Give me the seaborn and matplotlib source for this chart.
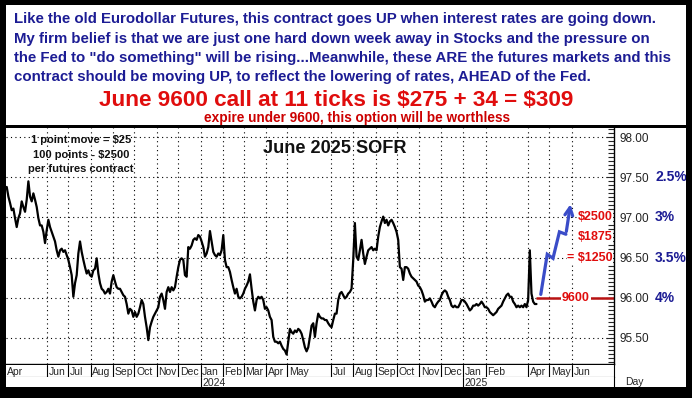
import numpy as np
import pandas as pd
import matplotlib
matplotlib.use("Agg")
import matplotlib.pyplot as plt
from matplotlib.patches import Rectangle
from matplotlib.transforms import blended_transform_factory
import seaborn as sns

# --- Data ---
sofr_close = [
    97.38, 97.26, 97.18, 97.09, 97.11, 96.99, 96.88, 96.99, 97.05, 97.20,
    97.13, 97.07, 97.22, 97.45, 97.26, 97.20, 97.30, 97.22, 97.13, 96.99,
    96.90, 96.90, 96.82, 96.68, 96.84, 96.97, 96.88, 96.82, 96.76, 96.70,
    96.59, 96.51, 96.59, 96.61, 96.57, 96.59, 96.53, 96.47, 96.38, 96.28,
    96.01, 96.18, 96.28, 96.55, 96.70, 96.57, 96.47, 96.38, 96.30, 96.34,
    96.28, 96.26, 96.34, 96.36, 96.49, 96.30, 96.18, 96.11, 96.09, 96.05,
    96.07, 96.11, 96.05, 96.20, 96.28, 96.20, 96.13, 96.11, 96.11, 96.07,
    96.03, 96.01, 95.92, 95.80, 95.86, 95.84, 95.76, 95.82, 95.76, 95.80,
    95.88, 95.97, 95.92, 95.76, 95.63, 95.47, 95.63, 95.70, 95.76, 95.80,
    95.84, 95.88, 96.01, 96.05, 95.97, 95.86, 96.07, 96.13, 96.07, 96.13,
    96.09, 96.13, 96.26, 96.38, 96.47,
    96.49, 96.47, 96.28, 96.26, 96.63, 96.61, 96.65, 96.72, 96.74, 96.72,
    96.78, 96.76, 96.70, 96.63, 96.51, 96.55, 96.63, 96.83, 96.70, 96.57,
    96.53, 96.51, 96.55, 96.53, 96.59, 96.78, 96.47, 96.38, 96.38, 96.32,
    96.22, 96.13, 96.05, 96.11, 96.01, 95.99, 96.01, 96.05, 96.11, 96.15,
    96.20, 96.29, 96.11, 95.95, 95.84, 95.97, 96.01, 95.99, 96.01, 95.97,
    95.86, 95.88, 95.84, 95.76, 95.72, 95.51, 95.45, 95.45, 95.43, 95.45,
    95.40, 95.36, 95.34, 95.29, 95.45, 95.61, 95.57, 95.55, 95.59, 95.57,
    95.61, 95.59, 95.55, 95.47, 95.38, 95.33, 95.38, 95.51, 95.65, 95.68,
    95.51, 95.68, 95.80, 95.76, 95.74, 95.74, 95.72, 95.72, 95.68, 95.65,
    95.63, 95.72, 95.80, 95.80, 95.97, 96.05, 96.07, 96.03, 95.99, 96.01,
    96.05, 96.07, 96.11, 96.47,
    96.93, 96.51, 96.47, 96.59, 96.72, 96.55, 96.42, 96.51, 96.59, 96.61,
    96.63, 96.59, 96.61, 96.59, 96.76, 96.88, 96.95, 97.01, 96.93, 96.97,
    96.90, 96.95, 96.97, 96.93, 96.88, 96.82, 96.72, 96.38, 96.36, 96.22,
    96.38, 96.38, 96.36, 96.30, 96.26, 96.24, 96.22, 96.20, 96.15, 96.13,
    96.09, 96.03, 95.95, 95.97, 95.97, 95.99, 95.95, 95.90, 95.88, 95.92,
    95.95, 95.97, 96.03, 96.07, 96.09, 96.07, 96.01, 95.97, 95.90, 95.88,
    95.90, 95.88, 95.88, 95.92, 95.97, 95.97, 95.95, 95.92, 95.88, 95.84,
    95.86, 95.90, 95.90, 95.92, 95.90, 95.92, 95.95, 95.92, 95.88, 95.88,
    95.86, 95.82, 95.80, 95.78, 95.80, 95.82, 95.86, 95.88, 95.90, 95.95,
    95.99, 96.03, 96.05, 96.01, 96.01, 95.95, 95.92, 95.88, 95.90, 95.88,
    95.90, 95.88, 95.92, 95.88, 95.97, 96.59, 96.05, 95.95, 95.92, 95.92,
]
series_start = "2023-04-06"
series_end = "2025-04-13"

month_starts = ["2023-06-01", "2023-07-01", "2023-08-01", "2023-09-01", "2023-10-01",
                "2023-11-01", "2023-12-01", "2024-01-01", "2024-02-01", "2024-03-01",
                "2024-04-01", "2024-05-01", "2024-07-01", "2024-08-01", "2024-09-01",
                "2024-10-01", "2024-11-01", "2024-12-01", "2025-01-01", "2025-02-01",
                "2025-04-01", "2025-05-01", "2025-06-01"]
first_month_label = "Apr"
year_starts = ["2024-01-01", "2025-01-01"]
year_labels = ["2024", "2025"]

price_levels = [95.5, 96.0, 96.5, 97.0, 97.5, 98.0]
rate_levels = [97.5, 97.0, 96.5, 96.0]
rate_labels = ["2.5%", "3%", "3.5%", "4%"]

strike = 96.0
strike_label = "9600"
strike_from = "2025-04-12"

payoff_levels = [97.0, 96.75, 96.5]
payoff_labels = ["$2500", "$1875", "= $1250"]

path_dates = ["2025-04-19", "2025-04-28", "2025-05-06", "2025-05-15", "2025-05-24", "2025-05-31"]
path_values = [96.04, 96.54, 96.49, 96.82, 96.79, 97.20]

header_lines = [
    "Like the old Eurodollar Futures, this contract goes UP when interest rates are going down.",
    "My firm belief is that we are just one hard down week away in Stocks and the pressure on",
    "the Fed to \"do something\" will be rising...Meanwhile, these ARE the futures markets and this",
    "contract should be moving UP, to reflect the lowering of rates, AHEAD of the Fed.",
]
trade_line = "June 9600 call at 11 ticks is $275 + 34 = $309"
risk_line = "expire under 9600, this option will be worthless"
contract_notes = ["1 point move = $25", "100 points - $2500", "per futures contract"]
chart_title = "June 2025 SOFR"

# --- Style ---
sns.set_style("white")
plt.rcParams["font.family"] = ["Liberation Sans", "DejaVu Sans"]

W, H = 692, 398
NAVY = "#1c1c94"
RED = "#e00d0d"
DARKRED = "#b81212"
ARROW_BLUE = "#3a4cc8"


def fx(px):
    return px / W


def fy(py):
    return 1 - py / H


fig = plt.figure(figsize=(W / 100, H / 100), dpi=100)
renderer = fig.canvas.get_renderer()


def fit_width(txt, target_px):
    w = txt.get_window_extent(renderer).width
    txt.set_fontsize(txt.get_fontsize() * target_px / w)
    return txt.get_fontsize()


# --- Header text panel ---
header_texts = []
for i, line in enumerate(header_lines):
    header_texts.append(fig.text(fx(14), fy(19 + 19.5 * i), line, color=NAVY,
                                 fontweight="bold", fontsize=10, ha="left",
                                 va="center", parse_math=False))
size = fit_width(header_texts[2], 662)
for t in header_texts:
    t.set_fontsize(size)

t = fig.text(fx(336), fy(100), trade_line, color=RED, fontweight="bold",
             fontsize=14, ha="center", va="center", parse_math=False)
fit_width(t, 474)
t = fig.text(fx(357), fy(118), risk_line, color="#cc0000", fontweight="bold",
             fontsize=8, ha="center", va="center", parse_math=False)
fit_width(t, 308)

# --- Main price axes ---
ax = fig.add_axes([fx(6), fy(364), fx(614) - fx(6), fy(128) - fy(364)])
dates = pd.date_range(series_start, series_end, periods=len(sofr_close))
df = pd.DataFrame({"date": dates, "close": sofr_close})
sns.lineplot(data=df, x="date", y="close", ax=ax, color="black", lw=1.6)

ax.set_xlim(pd.Timestamp("2023-04-05"), pd.Timestamp("2025-07-30"))
ax.set_ylim(95.172, 98.115)
ax.set_xlabel("")
ax.set_ylabel("")

month_dates = pd.to_datetime(month_starts)
ax.set_xticks(month_dates)
ax.tick_params(axis="x", length=0, labelbottom=False)
ax.yaxis.tick_right()
ax.set_yticks(price_levels)
ax.set_yticklabels([f"{v:.2f}" for v in price_levels])
ax.set_yticks(np.arange(95.2, 98.11, 0.05), minor=True)
ax.tick_params(axis="y", which="major", direction="in", length=6, width=0.8,
               pad=4, labelsize=8.5, labelcolor="#222222")
ax.tick_params(axis="y", which="minor", direction="in", length=4, width=0.8)
ax.grid(True, which="major", color="black", ls=(0, (1, 3)), lw=0.8)
for side in ["left", "top"]:
    ax.spines[side].set_visible(False)
for side in ["right", "bottom"]:
    ax.spines[side].set_color("black")
    ax.spines[side].set_linewidth(1)

# strike line
ax.plot([pd.Timestamp(strike_from), pd.Timestamp("2025-07-30")], [strike, strike],
        color=DARKRED, lw=1.8, solid_capstyle="butt")
ax.text(pd.Timestamp("2025-06-07"), strike, strike_label, color=RED, fontweight="bold",
        fontsize=9, ha="center", va="center",
        bbox=dict(facecolor="white", edgecolor="none", pad=0.5))

# payoff labels
for lvl, lbl in zip(payoff_levels, payoff_labels):
    ax.text(pd.Timestamp("2025-07-28"), lvl, lbl, color=RED, fontweight="bold",
            fontsize=9, ha="right", va="center", parse_math=False,
            bbox=dict(facecolor="white", edgecolor="none", pad=0.3))

# projected path
pdates = pd.to_datetime(path_dates)
ax.plot(pdates[:-1], path_values[:-1], color=ARROW_BLUE, lw=2.3, solid_joinstyle="miter")
ax.annotate("", xy=(pdates[-1], path_values[-1]), xytext=(pdates[-2], path_values[-2]),
            arrowprops=dict(arrowstyle="->", color=ARROW_BLUE, lw=2.3, mutation_scale=14))

# chart notes
for i, note in enumerate(contract_notes):
    fig.text(fx(81), fy(140 + 14.5 * i), note, fontweight="bold", fontsize=8,
             ha="center", va="center", color="#111111", parse_math=False)
t = fig.text(fx(335), fy(148), chart_title, fontweight="bold", fontsize=12,
             ha="center", va="center", color="#111111")
fit_width(t, 143)

# rate labels on the right
blend = blended_transform_factory(fig.transFigure, ax.transData)
for lvl, lbl in zip(rate_levels, rate_labels):
    ax.text(fx(655), lvl, lbl, transform=blend, color=NAVY, fontweight="bold",
            fontsize=10, ha="left", va="center", clip_on=False)

# --- Month / year rows ---
row_font = ["Liberation Sans Narrow", "Liberation Sans", "DejaVu Sans"]
ax_m = fig.add_axes([fx(6), fy(377), fx(614) - fx(6), fy(365) - fy(377)], sharex=ax)
ax_y = fig.add_axes([fx(6), fy(387), fx(614) - fx(6), fy(377) - fy(387)], sharex=ax)
for a in (ax_m, ax_y):
    a.set_ylim(0, 1)
    a.tick_params(left=False, bottom=False, labelleft=False, labelbottom=False)
    a.grid(False)
    for side in ["left", "top"]:
        a.spines[side].set_visible(False)
    a.spines["right"].set_color("black")
ax_m.spines["bottom"].set_color("black")
ax_y.spines["bottom"].set_visible(False)

ax_m.annotate(first_month_label, (0, 0.45), xycoords=("axes fraction", "axes fraction"),
              xytext=(0.5, 0), textcoords="offset points", ha="left", va="center",
              fontsize=7.5, family=row_font)
for d in month_dates:
    ax_m.axvline(d, color="black", lw=0.8)
    ax_m.annotate(d.strftime("%b"), (d, 0.45), xytext=(1.2, 0), textcoords="offset points",
                  ha="left", va="center", fontsize=7.5, family=row_font)
for d, lbl in zip(pd.to_datetime(year_starts), year_labels):
    ax_y.axvline(d, color="black", lw=0.8)
    ax_y.annotate(lbl, (d, 0.45), xytext=(1.2, 0), textcoords="offset points",
                  ha="left", va="center", fontsize=7.5, family=row_font)
fig.text(fx(625), fy(382), "Day", fontsize=7.5, ha="left", va="center", family=row_font)

# --- Panel borders ---
black_bands = [
    (0, 0, 692, 5),      # top
    (0, 387, 692, 11),   # bottom
    (0, 0, 6, 398),      # left
    (686, 0, 6, 398),    # right
    (0, 125, 692, 3),    # header separator
]
for x0, y0, w, h in black_bands:
    fig.add_artist(Rectangle((fx(x0), fy(y0 + h)), w / W, h / H, transform=fig.transFigure,
                             facecolor="black", edgecolor="none", zorder=10))

fig.savefig("out.png", dpi=100)
